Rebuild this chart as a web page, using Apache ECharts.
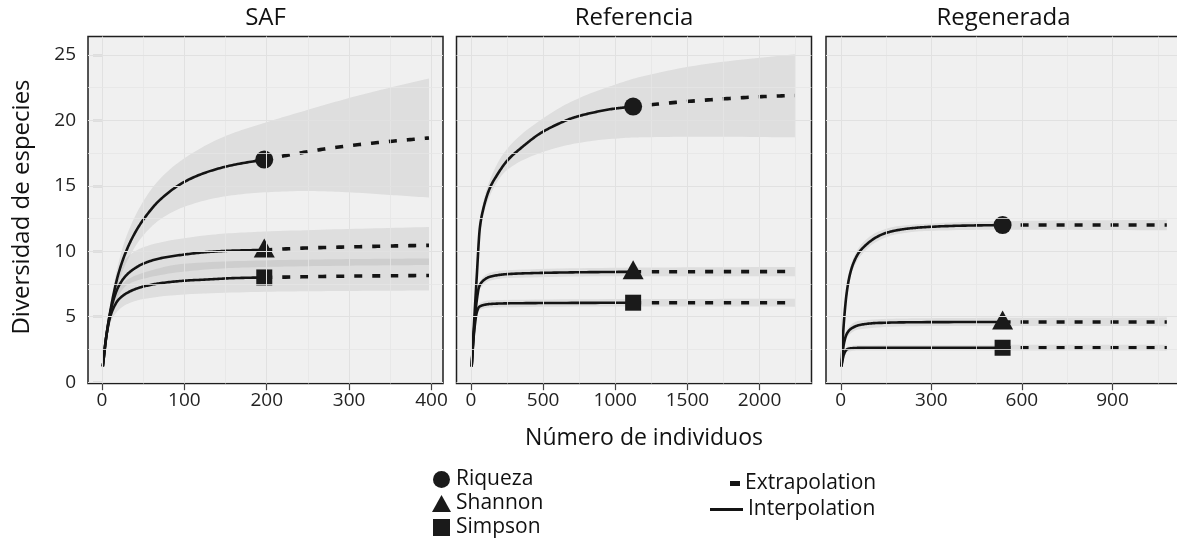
<!DOCTYPE html>
<html>
<head>
<meta charset="utf-8">
<script src="https://cdn.jsdelivr.net/npm/echarts@6/dist/echarts.min.js"></script>
<style>
  html, body { margin: 0; padding: 0; background: #ffffff; }
  #chart { width: 1177px; height: 552px; }
</style>
</head>
<body>
<div id="chart"></div>
<script>
// ---------- axis ticks ----------
const Y_TICKS = [0, 5, 10, 15, 20, 25];
const Y_MINOR = [2.5, 7.5, 12.5, 17.5, 22.5];
const SAF_X_TICKS = [0, 100, 200, 300, 400];
const SAF_X_MINOR = [50, 150, 250, 350];
const REF_X_TICKS = [0, 500, 1000, 1500, 2000];
const REF_X_MINOR = [250, 750, 1250, 1750, 2250];
const REG_X_TICKS = [0, 300, 600, 900];
const REG_X_MINOR = [150, 450, 750, 1050];

const PANEL_TITLES = ['SAF', 'Referencia', 'Regenerada'];
const METRICS = ['Riqueza', 'Shannon', 'Simpson'];

// ---------- SAF ----------
const SAF_RIQUEZA_INTERP = [[1,1.2],[5,3.4],[10,5.4],[15,7.0],[20,8.3],[30,10.1],[40,11.4],[50,12.4],[70,13.9],[100,15.3],[130,16.1],[160,16.6],[197,17.0]];
const SAF_RIQUEZA_EXTRAP = [[197,17.0],[240,17.5],[280,17.9],[320,18.2],[360,18.45],[397,18.65]];
const SAF_RIQUEZA_UPPER  = [[1,1.3],[10,5.9],[20,9.1],[30,11.2],[50,13.8],[70,15.5],[100,17.1],[150,18.8],[197,19.8],[250,20.8],[300,21.7],[350,22.5],[397,23.2]];
const SAF_RIQUEZA_LOWER  = [[1,1.1],[10,5.0],[20,7.6],[30,9.2],[50,11.2],[70,12.4],[100,13.4],[150,14.2],[197,14.5],[250,14.6],[300,14.5],[350,14.3],[397,14.1]];

const SAF_SHANNON_INTERP = [[1,1.2],[5,3.4],[10,5.3],[15,6.5],[20,7.3],[30,8.2],[40,8.7],[50,9.05],[70,9.45],[100,9.75],[130,9.95],[160,10.05],[197,10.1]];
const SAF_SHANNON_EXTRAP = [[197,10.1],[250,10.25],[300,10.33],[350,10.4],[397,10.45]];
const SAF_SHANNON_UPPER  = [[1,1.3],[10,5.8],[20,8.4],[30,9.5],[50,10.3],[100,11.0],[150,11.35],[197,11.5],[300,11.7],[397,11.85]];
const SAF_SHANNON_LOWER  = [[1,1.1],[10,4.9],[20,6.6],[30,7.4],[50,7.9],[100,8.45],[150,8.7],[197,8.8],[300,8.9],[397,8.95]];

const SAF_SIMPSON_INTERP = [[1,1.2],[5,3.4],[10,5.0],[15,5.8],[20,6.3],[30,6.8],[40,7.1],[50,7.3],[70,7.55],[100,7.75],[130,7.85],[160,7.95],[197,8.0]];
const SAF_SIMPSON_EXTRAP = [[197,8.0],[300,8.1],[397,8.15]];
const SAF_SIMPSON_UPPER  = [[1,1.3],[10,5.5],[20,7.1],[30,7.8],[50,8.35],[100,9.05],[197,9.3],[300,9.4],[397,9.45]];
const SAF_SIMPSON_LOWER  = [[1,1.1],[10,4.5],[20,5.5],[30,5.95],[50,6.35],[100,6.7],[197,6.9],[300,6.97],[397,7.0]];

// ---------- Referencia ----------
const REF_RIQUEZA_INTERP = [[5,1.2],[20,4.2],[40,8.0],[62,11.8],[85,13.2],[130,14.8],[180,15.8],[250,16.9],[360,18.0],[480,19.0],[600,19.7],[710,20.2],[850,20.6],[1000,20.9],[1124,21.05]];
const REF_RIQUEZA_EXTRAP = [[1124,21.05],[1400,21.35],[1700,21.6],[2000,21.8],[2245,21.9]];
const REF_RIQUEZA_UPPER  = [[5,1.3],[62,12.3],[130,15.4],[250,17.8],[480,20.0],[710,21.5],[940,22.5],[1170,23.3],[1630,24.3],[2245,25.05]];
const REF_RIQUEZA_LOWER  = [[5,1.1],[62,11.3],[130,14.2],[250,16.2],[480,17.5],[710,18.2],[940,18.55],[1170,18.7],[1630,18.75],[2245,18.7]];

const REF_SHANNON_INTERP = [[5,1.2],[20,3.8],[40,6.2],[57,7.3],[90,7.8],[131,8.05],[250,8.25],[500,8.35],[800,8.4],[1124,8.43]];
const REF_SHANNON_EXTRAP = [[1124,8.43],[1600,8.44],[2245,8.45]];
const REF_SHANNON_UPPER  = [[5,1.3],[57,7.6],[131,8.35],[250,8.55],[1124,8.75],[2245,8.8]];
const REF_SHANNON_LOWER  = [[5,1.1],[57,7.0],[131,7.75],[250,7.95],[1124,8.1],[2245,8.1]];

const REF_SIMPSON_INTERP = [[5,1.2],[20,3.6],[40,5.3],[57,5.75],[90,5.9],[131,5.97],[250,6.02],[600,6.05],[1124,6.07]];
const REF_SIMPSON_EXTRAP = [[1124,6.07],[1600,6.07],[2245,6.07]];
const REF_SIMPSON_UPPER  = [[5,1.3],[57,6.0],[131,6.25],[1124,6.35],[2245,6.37]];
const REF_SIMPSON_LOWER  = [[5,1.1],[57,5.5],[131,5.7],[1124,5.78],[2245,5.77]];

// ---------- Regenerada ----------
const REG_RIQUEZA_INTERP = [[2,1.2],[10,4.5],[20,6.9],[30,8.2],[42,9.1],[60,9.9],[75,10.3],[100,10.8],[120,11.1],[150,11.4],[185,11.6],[230,11.75],[285,11.85],[395,11.95],[536,12.0]];
const REG_RIQUEZA_EXTRAP = [[536,12.0],[800,12.0],[1080,12.0]];
const REG_RIQUEZA_UPPER  = [[2,1.3],[20,7.3],[42,9.5],[75,10.7],[120,11.45],[185,11.9],[285,12.1],[536,12.3],[1080,12.4]];
const REG_RIQUEZA_LOWER  = [[2,1.1],[20,6.5],[42,8.7],[75,9.9],[120,10.75],[185,11.3],[285,11.55],[536,11.65],[1080,11.6]];

const REG_SHANNON_INTERP = [[2,1.2],[10,2.9],[20,3.7],[35,4.1],[63,4.37],[119,4.52],[250,4.58],[536,4.6]];
const REG_SHANNON_EXTRAP = [[536,4.6],[800,4.6],[1080,4.6]];
const REG_SHANNON_UPPER  = [[2,1.3],[20,4.0],[63,4.7],[250,4.88],[536,4.92],[1080,4.95]];
const REG_SHANNON_LOWER  = [[2,1.1],[20,3.4],[63,4.05],[250,4.28],[536,4.3],[1080,4.28]];

const REG_SIMPSON_INTERP = [[2,1.2],[10,2.1],[20,2.5],[31,2.58],[60,2.62],[150,2.63],[536,2.63]];
const REG_SIMPSON_EXTRAP = [[536,2.63],[800,2.63],[1080,2.63]];
const REG_SIMPSON_UPPER  = [[2,1.3],[20,2.7],[60,2.82],[536,2.85],[1080,2.86]];
const REG_SIMPSON_LOWER  = [[2,1.1],[20,2.3],[60,2.42],[536,2.42],[1080,2.41]];

// ---------- layout & style ----------
const FONT = '"Open Sans", "Noto Sans", sans-serif';
const INK = '#141414';
const BAND_FILL = 'rgba(100,100,100,0.13)';
const Y_MIN = -0.1, Y_MAX = 26.4;
const GRID_TOP = 36.5, GRID_W = 355, GRID_H = 347;

const PANELS = [
  { left: 88,    xMin: -17,  xMax: 414,  ticks: SAF_X_TICKS, minor: SAF_X_MINOR,
    curves: {
      Riqueza: [SAF_RIQUEZA_INTERP, SAF_RIQUEZA_EXTRAP, SAF_RIQUEZA_UPPER, SAF_RIQUEZA_LOWER],
      Shannon: [SAF_SHANNON_INTERP, SAF_SHANNON_EXTRAP, SAF_SHANNON_UPPER, SAF_SHANNON_LOWER],
      Simpson: [SAF_SIMPSON_INTERP, SAF_SIMPSON_EXTRAP, SAF_SIMPSON_UPPER, SAF_SIMPSON_LOWER]
    } },
  { left: 456.5, xMin: -100, xMax: 2360, ticks: REF_X_TICKS, minor: REF_X_MINOR,
    curves: {
      Riqueza: [REF_RIQUEZA_INTERP, REF_RIQUEZA_EXTRAP, REF_RIQUEZA_UPPER, REF_RIQUEZA_LOWER],
      Shannon: [REF_SHANNON_INTERP, REF_SHANNON_EXTRAP, REF_SHANNON_UPPER, REF_SHANNON_LOWER],
      Simpson: [REF_SIMPSON_INTERP, REF_SIMPSON_EXTRAP, REF_SIMPSON_UPPER, REF_SIMPSON_LOWER]
    } },
  { left: 826,   xMin: -49,  xMax: 1127, ticks: REG_X_TICKS, minor: REG_X_MINOR,
    curves: {
      Riqueza: [REG_RIQUEZA_INTERP, REG_RIQUEZA_EXTRAP, REG_RIQUEZA_UPPER, REG_RIQUEZA_LOWER],
      Shannon: [REG_SHANNON_INTERP, REG_SHANNON_EXTRAP, REG_SHANNON_UPPER, REG_SHANNON_LOWER],
      Simpson: [REG_SIMPSON_INTERP, REG_SIMPSON_EXTRAP, REG_SIMPSON_UPPER, REG_SIMPSON_LOWER]
    } }
];

const MARKERS = {
  Riqueza: { symbol: 'circle',   size: 18,       offset: [0, 0] },
  Shannon: { symbol: 'triangle', size: [21, 19], offset: [0, -2] },
  Simpson: { symbol: 'rect',     size: 16,       offset: [0, 0] }
};

// Monotone cubic smoothing through pixel points (x increasing).
function smoothEdge(pts, steps) {
  const n = pts.length;
  if (n < 3) return pts.slice();
  const dx = [], m = [], t = [];
  for (let i = 0; i < n - 1; i++) {
    dx[i] = Math.max(pts[i + 1][0] - pts[i][0], 1e-6);
    m[i] = (pts[i + 1][1] - pts[i][1]) / dx[i];
  }
  t[0] = m[0];
  t[n - 1] = m[n - 2];
  for (let i = 1; i < n - 1; i++) {
    if (m[i - 1] * m[i] <= 0) { t[i] = 0; continue; }
    t[i] = 3 * (dx[i - 1] + dx[i]) /
      ((2 * dx[i] + dx[i - 1]) / m[i - 1] + (dx[i] + 2 * dx[i - 1]) / m[i]);
  }
  const out = [];
  for (let i = 0; i < n - 1; i++) {
    const x0 = pts[i][0], y0 = pts[i][1], y1 = pts[i + 1][1], h = dx[i];
    for (let s = 0; s < steps; s++) {
      const u = s / steps, u2 = u * u, u3 = u2 * u;
      const y = (2 * u3 - 3 * u2 + 1) * y0 + (u3 - 2 * u2 + u) * h * t[i] +
                (-2 * u3 + 3 * u2) * y1 + (u3 - u2) * h * t[i + 1];
      out.push([x0 + u * h, y]);
    }
  }
  out.push(pts[n - 1]);
  return out;
}

// Confidence band: one filled shape between the upper and lower edges.
function bandSeries(upper, lower, idx) {
  return {
    type: 'custom', xAxisIndex: idx, yAxisIndex: idx, z: 2, silent: true,
    data: [upper[0]], encode: { x: 0, y: 1 },
    renderItem: function (params, api) {
      const top = smoothEdge(upper.map(p => api.coord(p)), 12);
      const bot = smoothEdge(lower.map(p => api.coord(p)), 12).reverse();
      return { type: 'polygon', shape: { points: top.concat(bot) }, style: { fill: BAND_FILL } };
    }
  };
}

// Rarefaction / extrapolation curve drawn as a smoothed polyline.
function curveSeries(name, pts, idx, lineWidth, dash) {
  return {
    type: 'custom', name: name, xAxisIndex: idx, yAxisIndex: idx, z: 3, silent: true,
    data: [pts[0]], encode: { x: 0, y: 1 }, itemStyle: { color: INK },
    renderItem: function (params, api) {
      return {
        type: 'polyline',
        shape: { points: smoothEdge(pts.map(p => api.coord(p)), 16) },
        style: { stroke: INK, fill: null, lineWidth: lineWidth, lineDash: dash || null, lineCap: 'butt', lineJoin: 'round' }
      };
    }
  };
}

const grids = [], xAxes = [], yAxes = [], series = [];
const plainNumber = v => String(v);

PANELS.forEach(function (p, i) {
  grids.push({
    left: p.left, top: GRID_TOP, width: GRID_W, height: GRID_H,
    show: true, backgroundColor: '#f0f0f0', borderColor: '#1e1e1e', borderWidth: 1.5,
    containLabel: false, outerBoundsMode: 'none'
  });
  xAxes.push({
    type: 'value', gridIndex: i, min: p.xMin, max: p.xMax,
    axisLine: { show: false }, splitLine: { show: false },
    axisTick: { show: true, length: 8, customValues: p.ticks, lineStyle: { color: '#444', width: 1.2 } },
    axisLabel: { customValues: p.ticks, formatter: plainNumber, margin: 8, fontSize: 19, fontFamily: FONT, color: '#222' }
  });
  yAxes.push({
    type: 'value', gridIndex: i, min: Y_MIN, max: Y_MAX,
    axisLine: { show: false }, splitLine: { show: false },
    axisTick: { show: i === 0, length: 9, customValues: Y_TICKS, lineStyle: { color: '#444', width: 1.2 } },
    axisLabel: { show: i === 0, customValues: Y_TICKS, formatter: plainNumber, margin: 12, fontSize: 19, fontFamily: FONT, color: '#222' }
  });

  // panel grid lines
  const major = { type: 'solid', color: '#e1e1e1', width: 1 };
  const minor = { type: 'solid', color: '#e6e6e6', width: 0.8 };
  series.push({
    type: 'line', name: 'gridlines-' + i, xAxisIndex: i, yAxisIndex: i, data: [], z: 1, silent: true,
    markLine: {
      silent: true, animation: false, symbol: ['none', 'none'], label: { show: false },
      emphasis: { disabled: true },
      data: [].concat(
        p.ticks.map(v => ({ xAxis: v, lineStyle: major })),
        p.minor.map(v => ({ xAxis: v, lineStyle: minor })),
        Y_TICKS.map(v => ({ yAxis: v, lineStyle: major })),
        Y_MINOR.map(v => ({ yAxis: v, lineStyle: minor }))
      )
    }
  });

  METRICS.forEach(function (metric) {
    const [interp, extrap, upper, lower] = p.curves[metric];
    series.push(bandSeries(upper, lower, i));
    series.push(curveSeries('Interpolation', interp, i, 2.6));
    series.push(curveSeries('Extrapolation', extrap, i, 3.6, [8, 10]));
    const mk = MARKERS[metric];
    series.push({
      type: 'scatter', name: metric, xAxisIndex: i, yAxisIndex: i, z: 4, silent: true,
      symbol: mk.symbol, symbolSize: mk.size, symbolOffset: mk.offset,
      data: [extrap[0]], itemStyle: { color: '#1a1a1a', opacity: 1 }
    });
  });
});

const titleText = (text, x, y, size, rot) => ({
  type: 'text', x: x, y: y, rotation: rot || 0, silent: true,
  style: {
    text: text, fill: '#111', fontSize: size, fontFamily: FONT,
    align: 'center', verticalAlign: 'middle', textAlign: 'center', textVerticalAlign: 'middle'
  }
});

const graphics = PANELS.map((p, i) => titleText(PANEL_TITLES[i], p.left + GRID_W / 2, 18, 24));
graphics.push(titleText('Número de individuos', 644, 438, 23));
graphics.push(titleText('Diversidad de especies', 22, 207, 24, Math.PI / 2));

const legendText = { fontFamily: FONT, fontSize: 21, color: '#111' };

const option = {
  animation: false,
  backgroundColor: '#ffffff',
  grid: grids,
  xAxis: xAxes,
  yAxis: yAxes,
  series: series,
  graphic: graphics,
  legend: [
    {
      orient: 'vertical', left: 432, top: 469, padding: 0, itemGap: 3,
      itemWidth: 19, itemHeight: 17, selectedMode: false, textStyle: legendText,
      itemStyle: { borderWidth: 0, opacity: 1 },
      data: [
        { name: 'Riqueza', icon: 'circle' },
        { name: 'Shannon', icon: 'triangle' },
        { name: 'Simpson', icon: 'path://M0,0H10V10H0Z' }
      ]
    },
    {
      orient: 'vertical', left: 730, top: 473, padding: 0,
      itemWidth: 10, itemHeight: 5, selectedMode: false, textStyle: legendText,
      itemStyle: { borderWidth: 0 },
      data: [{ name: 'Extrapolation', icon: 'rect' }]
    },
    {
      orient: 'vertical', left: 710, top: 499, padding: 0,
      itemWidth: 33, itemHeight: 3, selectedMode: false, textStyle: legendText,
      itemStyle: { borderWidth: 0 },
      data: [{ name: 'Interpolation', icon: 'rect' }]
    }
  ]
};

const chart = echarts.init(document.getElementById('chart'), null, { renderer: 'canvas' });
chart.setOption(option);
</script>
</body>
</html>
